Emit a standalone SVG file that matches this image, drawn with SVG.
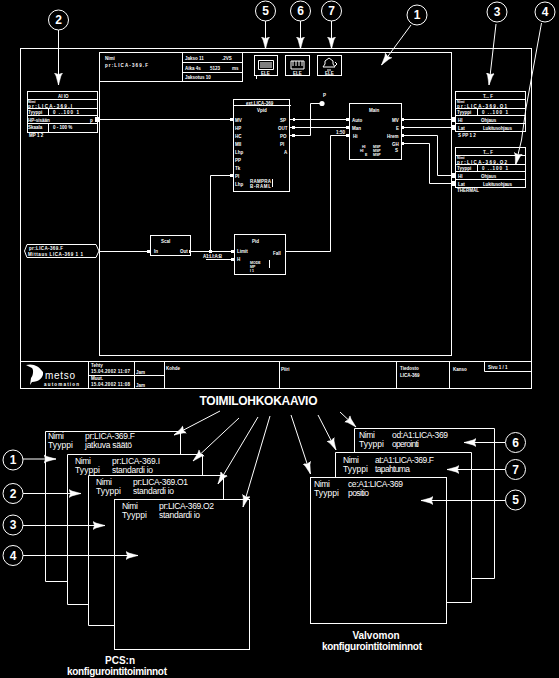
<svg xmlns="http://www.w3.org/2000/svg" width="559" height="678" viewBox="0 0 559 678">
<style>
text{font-family:"Liberation Sans",Arial,sans-serif;fill:#fff}
.b{fill:none;stroke:#fff;stroke-width:1}
.a{fill:none;stroke:#fff;stroke-width:1;marker-end:url(#h)}
.n{font-size:8.5px}
.t{font-size:4.5px;font-weight:bold}
.s{font-size:3.5px;font-weight:bold}
.c{fill:#000;stroke:#fff;stroke-width:1}
.l{font-size:12px;font-weight:bold;text-anchor:middle}
.f{font-size:10px;font-weight:bold;text-anchor:middle}
.p{fill:#fff}
</style>
<defs>
<marker id="h" markerUnits="userSpaceOnUse" markerWidth="14" markerHeight="10" refX="12" refY="5" orient="auto">
<path d="M0,1 L3,2.6 L12,5 L3,7.4 L0,9 L1.5,5Z" fill="#fff" stroke="#fff" stroke-width="0.5"/>
</marker>
</defs>
<rect width="559" height="678" fill="#000"/>

<g id="frame">
<rect class="b" x="20.5" y="48.5" width="511" height="340"/>
<rect class="b" x="99.5" y="52.5" width="352" height="303"/>
<path class="b" d="M20.5,361.5H531.5M88.5,361.5V388.5M134.5,361.5V388.5M164.5,361.5V388.5M279.5,361.5V388.5M396.5,361.5V388.5M449.5,361.5V388.5M88.5,375.5H164.5M484.5,361.5V371.5H531.5"/>
</g>

<g id="header">
<path class="b" d="M99.5,81.5H243M182.5,52.5V81.5M242.5,52.5V81.5M182.5,62.5H242.5M182.5,72.5H242.5"/>
<text class="t" x="105" y="60">Nimi</text>
<text class="t" x="105" y="67" textLength="43">pr:LICA-369.F</text>
<text class="t" x="185" y="60">Jakso 11</text><text class="t" x="222" y="60">.2VS</text>
<text class="t" x="185" y="70">Aika 4s</text><text class="t" x="210" y="70">5123</text><text class="t" x="232" y="70">ms</text>
<text class="t" x="185" y="79">Jaksotus 10</text>
</g>

<g id="titleblock">
<path d="M26,365 C33,363 39,366 43,372 C44,378 38,382 32,382 L30,385 L31,378 C33,376 34,370 32,368Z" fill="#fff"/>
<text x="45" y="379" font-size="10" fill="#fff" textLength="30">metso</text>
<text class="t" x="44" y="386" textLength="35">automation</text>
<text class="t" x="91" y="367">Tehty</text><text class="t" x="91" y="373" textLength="39">15.04.2002 11:07</text>
<text class="t" x="91" y="380">Muut.</text><text class="t" x="91" y="386" textLength="39">15.04.2002 11:08</text>
<text class="t" x="136" y="374">Jam</text><text class="t" x="136" y="387">Jam</text>
<text class="t" x="166" y="370">Kohde</text>
<text class="t" x="281" y="371">Piiri</text>
<text class="t" x="400" y="370">Tiedosto</text><text class="t" x="400" y="377">LICA-369</text>
<text class="t" x="453" y="371">Kanso</text>
<text class="t" x="488" y="369">Sivu 1 / 1</text>
</g>

<g id="connectors">
<path class="b" d="M97,119.5H233"/>
<path class="b" d="M290,119.5H349M290,127.5H349M290,135.5H310.5V103.5H322"/>
<path class="b" d="M210.5,175.5H233M210.5,175.5V251.5"/>
<path class="b" d="M349,135.5H330.5V251.5H286"/>
<path class="b" d="M99,251.5H150M191,251.5H234M206,259.5H234"/>
<path class="b" d="M401,119.5H455M401,127.5H455M401,135.5H437.5V175.5H455M401,143.5H429.5V183.5H455"/>
<path class="a" d="M58.5,30V85"/>
<path class="a" d="M265.5,21V49"/>
<path class="a" d="M300.5,21V49"/>
<path class="a" d="M331.5,21V49"/>
<path class="a" d="M411,25L381.5,65"/>
<path class="a" d="M496,24L489,85"/>
<path class="a" d="M541.5,23L526,108L521.5,140L515.5,165"/>
<path class="a" d="M220,411L174,435"/>
<path class="a" d="M239,418L193,461"/>
<path class="a" d="M258,417L218,484"/>
<path class="a" d="M270,416L243,507"/>
<path class="a" d="M291,415L310.5,474"/>
<path class="a" d="M318,415L336,450"/>
<path class="a" d="M340,412L356,427"/>
<g class="p">
<rect x="95" y="117" width="5" height="5"/><rect x="230" y="118" width="3" height="3"/><rect x="230" y="174" width="3" height="3"/>
<rect x="293" y="118" width="2" height="3"/><rect x="292" y="126" width="3" height="3"/><rect x="292" y="134" width="3" height="3"/>
<rect x="346" y="118" width="3" height="3"/><rect x="346" y="126" width="3" height="3"/><rect x="346" y="134" width="3" height="3"/>
<rect x="402" y="118" width="2" height="3"/><rect x="402" y="126" width="2" height="3"/><rect x="402" y="134" width="2" height="3"/><rect x="402" y="142" width="2" height="3"/>
<rect x="452" y="117" width="4" height="5"/><rect x="452" y="125" width="4" height="5"/><rect x="452" y="173" width="4" height="5"/><rect x="452" y="181" width="4" height="5"/>
<rect x="147" y="250" width="3" height="3"/><rect x="189" y="250" width="2" height="3"/><rect x="209" y="250" width="3" height="3"/><rect x="231" y="250" width="3" height="3"/><rect x="231" y="258" width="3" height="3"/>
<circle cx="322" cy="103.5" r="2.6"/>
</g>
</g>

<g id="block-ai">
<rect class="b" x="27.5" y="91.5" width="70" height="41"/>
<path class="b" d="M27.5,99.5H97.5M27.5,108.5H97.5M27.5,115.5H97.5M27.5,123.5H97.5M48.5,108.5V115.5M48.5,123.5V132.5"/>
<text class="t" x="58" y="97.5">AI IO</text>
<text class="s" x="28" y="103">Nimi</text><text class="t" x="28" y="107.8" textLength="44">pr:LICA-369.I</text>
<text class="t" x="28" y="114">Tyyppi</text><text class="t" x="53" y="114" textLength="26">0  ..100  1</text>
<text class="t" x="28" y="121.5">HP-sisään</text><text class="t" x="90" y="121.5">p</text>
<text class="t" x="28" y="129">Skaala</text><text class="t" x="53" y="129">0 - 100 %</text>
<text class="t" x="29" y="137">MP 1 2</text>
</g>

<g id="block-lid">
<path class="b" d="M24.5,251L27,244.5H96L99,251L96,257.5H27Z"/>
<text class="t" x="29" y="250" textLength="34">pr:LICA-369.F</text>
<text class="t" x="28" y="256" textLength="55">Mittaus LICA-369 1 1</text>
</g>

<g id="block-vpid">
<rect class="b" x="233.5" y="99.5" width="56" height="92"/>
<path class="b" d="M233.5,105.5H291"/>
<text class="t" x="246" y="104.500">ext.LICA-369</text>
<text class="t" x="257" y="112">Vpid</text>
<text class="t" x="235" y="121.5">MV</text><text class="t" x="235" y="129.5">HP</text><text class="t" x="235" y="137.5">HC</text><text class="t" x="235" y="145.5">MII</text><text class="t" x="235" y="153.5">Lhp</text><text class="t" x="235" y="161.5">PP</text><text class="t" x="235" y="169.5">Tk</text><text class="t" x="235" y="177.5">PI</text><text class="t" x="235" y="185.5">Lhp</text>
<text class="t" x="250" y="182.5" textLength="21">RAMPRA</text><text class="t" x="250" y="188" textLength="21">B-RAML</text>
<text class="t" x="280" y="121.5">SP</text><text class="t" x="278" y="129.5">OUT</text><text class="t" x="280" y="137.5">PO</text><text class="t" x="280" y="145.5">PI</text><text class="t" x="284" y="153.5">A</text>
<path class="b" d="M272.5,179V187"/>
</g>

<g id="block-main">
<rect class="b" x="349.5" y="103.5" width="52" height="56"/>
<text class="t" x="369" y="112">Main</text>
<text class="t" x="352" y="121.5">Auto</text><text class="t" x="352" y="129.5">Man</text><text class="t" x="353" y="137.5">Hi</text>
<text class="t" x="392" y="121.5">MV</text><text class="t" x="396" y="129.5">E</text><text class="t" x="387" y="137.5">Hrem</text><text class="t" x="392" y="145.5">GH</text>
<text class="s" x="362" y="148">HI</text><text class="s" x="373" y="148">MSP</text><text class="s" x="360" y="152">HI</text><text class="s" x="373" y="152">MSP</text><text class="s" x="365" y="156">E</text><text class="s" x="373" y="156">MSP</text>
<text class="t" x="395" y="152">S</text>
<text class="t" x="336" y="134">1:50</text>
</g>

<g id="block-smalls">
<text class="t" x="323" y="97">P</text>
<rect class="b" x="150.5" y="235.5" width="40" height="20"/>
<text class="t" x="161" y="243">Scal</text><text class="t" x="154" y="253">In</text><text class="t" x="180" y="253">Out</text>
<text class="t" x="203" y="258" textLength="19">A1:LI:A:B</text>
</g>

<g id="block-pid">
<rect class="b" x="234.5" y="234.5" width="51" height="40"/>
<text class="t" x="252" y="243">Pid</text>
<text class="t" x="237" y="253">Limit</text><text class="t" x="237" y="261">H</text>
<text class="t" x="273" y="255">Fall</text>
<text class="s" x="250" y="264">MODE</text><text class="s" x="250" y="268">MP</text><text class="s" x="250" y="272">I 1</text>
<path class="b" d="M269.5,260V268"/>
</g>

<g id="block-ao1">
<rect class="b" x="455.5" y="91.5" width="70" height="40"/>
<path class="b" d="M455.5,99.5H525.5M455.5,108.5H525.5M455.5,115.5H525.5M455.5,123.5H525.5M477.5,108.5V115.5"/>
<text class="t" x="483" y="97.5">T... F</text>
<text class="s" x="457" y="102.5">Nimi</text><text class="t" x="457" y="107.8" textLength="50">pr:LICA-369.O1</text>
<text class="t" x="457" y="114">Tyyppi</text><text class="t" x="482" y="114" textLength="26">0  ..100  1</text>
<text class="t" x="458" y="121.5">HI</text><text class="t" x="481" y="121.5">Ohjaus</text>
<text class="t" x="458" y="129.5">Lat</text><text class="t" x="483" y="129.5" textLength="29">Lukitusohjaus</text>
<text class="t" x="458" y="136.5">S PP 1 2</text>
</g>

<g id="block-ao2">
<rect class="b" x="455.5" y="147.5" width="70" height="40"/>
<path class="b" d="M455.5,155.5H525.5M455.5,164.5H525.5M455.5,171.5H525.5M455.5,179.5H525.5M477.5,164.5V171.5"/>
<text class="t" x="483" y="153.5">T... F</text>
<text class="s" x="457" y="158.500">Nimi</text><text class="t" x="457" y="163.8" textLength="50">pr:LICA-369.O2</text>
<text class="t" x="457" y="170">Tyyppi</text><text class="t" x="482" y="170" textLength="26">0  ..100  1</text>
<text class="t" x="458" y="177.5">HI</text><text class="t" x="481" y="177.5">Ohjaus</text>
<text class="t" x="458" y="185.5">Lat</text><text class="t" x="483" y="185.5" textLength="29">Lukitusohjaus</text>
<text class="t" x="457" y="192">THERMAL</text>
</g>

<g id="icon-5">
<rect class="b" x="254.5" y="55.5" width="23" height="20"/>
<path class="b" d="M258.5,60.5H273.5V69.5H258.5ZM260,63H272M260,65H272M260,67H272M256.5,75.5V79"/>
<text class="t" x="261" y="74.500">ELE</text>
</g>
<g id="icon-6">
<rect class="b" x="285.5" y="55.5" width="24" height="20"/>
<path class="b" d="M291,61H304V69H291ZM293,61V66M296,61V66M299,61V66M302,61V66"/>
<text class="t" x="293" y="74.500">ELE</text>
</g>
<g id="icon-7">
<rect class="b" x="317.5" y="55.5" width="24" height="20"/>
<path class="b" d="M323,67H335L333,64V61L329,58L325,61V64ZM327,70H331M335,62L337,64L335,66"/>
<text class="t" x="325" y="74.500">ELE</text>
</g>

<text id="title" class="l" x="258.5" y="405" textLength="118">TOIMILOHKOKAAVIO</text>

<g id="panel-1">
<path class="b" d="M180.5,454.5V431.5H45.5V581.5H67.5"/>
<text class="n" x="48" y="439" textLength="16">Nimi</text><text class="n" x="85" y="439" textLength="50">pr:LICA-369.F</text>
<text class="n" x="48" y="448" textLength="25">Tyyppi</text><text class="n" x="85" y="448" textLength="47">jatkuva säätö</text>
</g>
<g id="panel-2">
<path class="b" d="M202.5,475.5V454.5H67.5V604.5H88.5"/>
<text class="n" x="75" y="463.5" textLength="16">Nimi</text><text class="n" x="112" y="463.5" textLength="48">pr:LICA-369.I</text>
<text class="n" x="75" y="472.5" textLength="25">Tyyppi</text><text class="n" x="112" y="472.5" textLength="41">standardi io</text>
</g>
<g id="panel-3">
<path class="b" d="M223.5,499.5V475.5H88.5V625.5H114.5"/>
<text class="n" x="96" y="485" textLength="16">Nimi</text><text class="n" x="133" y="485" textLength="55">pr:LICA-369.O1</text>
<text class="n" x="96" y="494" textLength="25">Tyyppi</text><text class="n" x="133" y="494" textLength="41">standardi io</text>
</g>
<g id="panel-4">
<rect class="b" x="114.5" y="499.5" width="135" height="150"/>
<text class="n" x="122" y="508.500" textLength="16">Nimi</text><text class="n" x="159" y="508.500" textLength="55">pr:LICA-369.O2</text>
<text class="n" x="122" y="517.500" textLength="25">Tyyppi</text><text class="n" x="159" y="517.500" textLength="41">standardi io</text>
</g>
<text class="f" x="120" y="664">PCS:n</text>
<text class="f" x="117" y="675" textLength="100">konfigurointitoiminnot</text>

<g id="panel-6">
<path class="b" d="M354.5,452.5V428.5H494.5V578.5H471.5"/>
<text class="n" x="359" y="437.5" textLength="16">Nimi</text><text class="n" x="392" y="437.5" textLength="56">od:A1:LICA-369</text>
<text class="n" x="359" y="446.5" textLength="25">Tyyppi</text><text class="n" x="392" y="446.5" textLength="27">operointi</text>
</g>
<g id="panel-7">
<path class="b" d="M335.5,477.5V452.5H471.5V602.5H446.5"/>
<text class="n" x="343" y="462.5" textLength="16">Nimi</text><text class="n" x="375" y="462.5" textLength="59">at:A1:LICA-369.F</text>
<text class="n" x="343" y="471.5" textLength="25">Tyyppi</text><text class="n" x="375" y="471.5" textLength="35">tapahtuma</text>
</g>
<g id="panel-5">
<rect class="b" x="310.5" y="477.5" width="136" height="146"/>
<text class="n" x="314" y="486.5" textLength="16">Nimi</text><text class="n" x="348" y="486.5" textLength="55">ce:A1:LICA-369</text>
<text class="n" x="314" y="495.5" textLength="25">Tyyppi</text><text class="n" x="348" y="495.5" textLength="21">positio</text>
</g>
<text class="f" x="376" y="639">Valvomon</text>
<text class="f" x="372" y="650" textLength="100">konfigurointitoiminnot</text>

<g id="connectors-lower">
<path class="a" d="M23,459H56"/>
<path class="a" d="M23,493.5H81"/>
<path class="a" d="M23,525.5H105"/>
<path class="a" d="M23,555.5H138"/>
<path class="a" d="M505,442.5H464"/>
<path class="a" d="M505,469.5H447"/>
<path class="a" d="M505,500.5H421"/>
</g>

<g id="callout-2"><circle class="c" cx="58.5" cy="20" r="10"/><text class="l" x="58.5" y="24">2</text></g>
<g id="callout-5"><circle class="c" cx="265.5" cy="11" r="10"/><text class="l" x="265.5" y="15">5</text></g>
<g id="callout-6"><circle class="c" cx="300.5" cy="11" r="10"/><text class="l" x="300.5" y="15">6</text></g>
<g id="callout-7"><circle class="c" cx="331.5" cy="11" r="10"/><text class="l" x="331.5" y="15">7</text></g>
<g id="callout-1"><circle class="c" cx="417" cy="15" r="10"/><text class="l" x="417" y="19">1</text></g>
<g id="callout-3"><circle class="c" cx="497" cy="12" r="10"/><text class="l" x="497" y="16">3</text></g>
<g id="callout-4"><circle class="c" cx="545" cy="12" r="10"/><text class="l" x="545" y="16">4</text></g>
<g id="callout-1b"><circle class="c" cx="13" cy="460" r="10"/><text class="l" x="13" y="464">1</text></g>
<g id="callout-2b"><circle class="c" cx="13" cy="493.5" r="10"/><text class="l" x="13" y="497.5">2</text></g>
<g id="callout-3b"><circle class="c" cx="13" cy="525" r="10"/><text class="l" x="13" y="529">3</text></g>
<g id="callout-4b"><circle class="c" cx="13" cy="555.5" r="10"/><text class="l" x="13" y="559.5">4</text></g>
<g id="callout-6b"><circle class="c" cx="515.5" cy="442.5" r="10"/><text class="l" x="515.5" y="446.5">6</text></g>
<g id="callout-7b"><circle class="c" cx="515.5" cy="469.5" r="10"/><text class="l" x="515.5" y="473.5">7</text></g>
<g id="callout-5b"><circle class="c" cx="515.5" cy="500" r="10"/><text class="l" x="515.5" y="504">5</text></g>
</svg>
